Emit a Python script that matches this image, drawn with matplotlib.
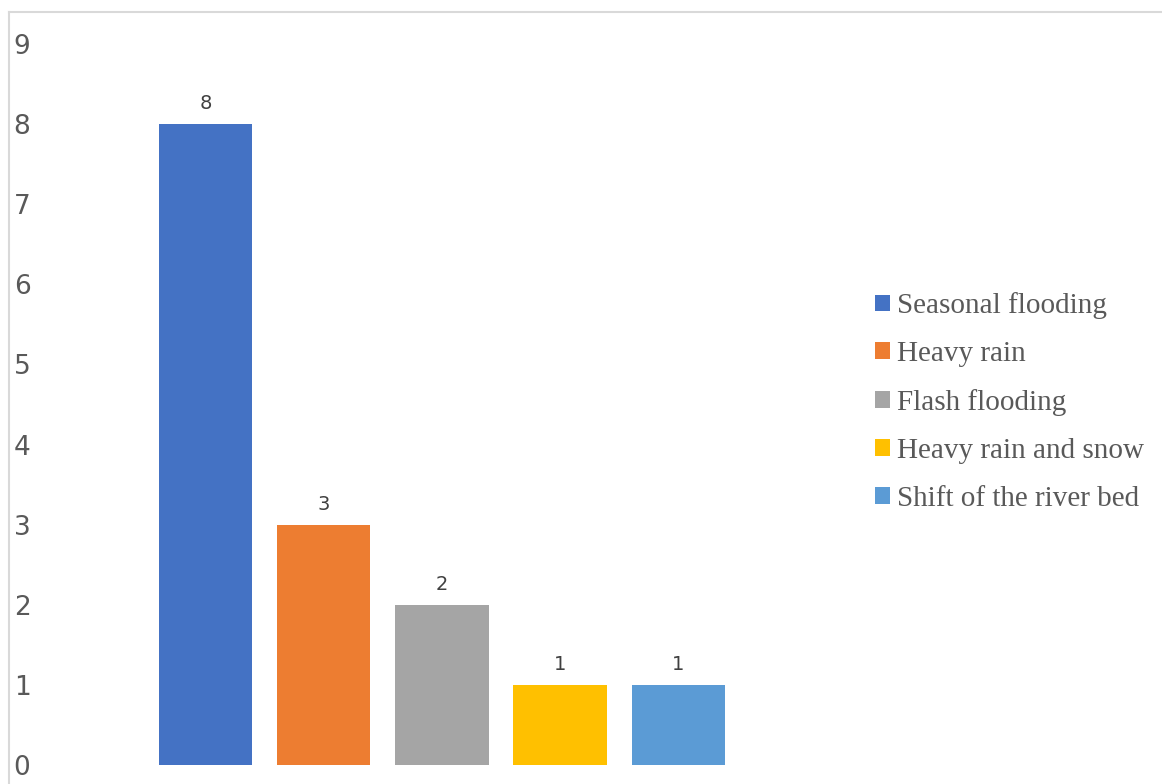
import matplotlib.pyplot as plt
from matplotlib.lines import Line2D

# data
causes = ['Seasonal flooding', 'Heavy rain', 'Flash flooding',
          'Heavy rain and snow', 'Shift of the river bed']
counts = [8, 3, 2, 1, 1]
colors = ['#4472C4', '#ED7D31', '#A5A5A5', '#FFC000', '#5B9BD5']
yticks = [0, 1, 2, 3, 4, 5, 6, 7, 8, 9]

W, H = 1162, 784
fig = plt.figure(figsize=(W / 100, H / 100), dpi=100)

# plot area in pixels: left 36, right 840, top 12, bottom 765 (value 0)
left, right, top, bottom = 36, 840, 12, 765
ax = fig.add_axes([left / W, 1 - bottom / H, (right - left) / W, (bottom - top) / H])

# bar centres at 205.5 px, step 118.2 px
step = 118.2
x0 = -(205.5 - left) / step
ax.set_xlim(x0, x0 + (right - left) / step)
ax.set_ylim(0, 9.4)

for i, (c, v, col) in enumerate(zip(causes, counts, colors)):
    bars = ax.bar(i, v, width=0.79, color=col, label=c)
    ax.bar_label(bars, labels=[str(v)], padding=8, fontsize=14, color='#404040')

ax.set_yticks(yticks)
ax.set_xticks([])
ax.tick_params(axis='y', length=0, pad=4, labelsize=19, labelcolor='#595959')
for s in ax.spines.values():
    s.set_visible(False)

# outer chart frame (left and top edges visible)
fig.add_artist(Line2D([9 / W, 9 / W], [0, 1 - 12 / H], color='#D9D9D9', lw=1.5))
fig.add_artist(Line2D([9 / W, 1], [1 - 12 / H, 1 - 12 / H], color='#D9D9D9', lw=1.5))

leg = fig.legend(loc='center left', bbox_to_anchor=(875 / W, 1 - 402 / H),
                 frameon=False, prop={'family': 'Liberation Serif', 'size': 21},
                 handlelength=0.5, handleheight=0.5, handletextpad=0.25,
                 labelspacing=0.75, borderpad=0, borderaxespad=0)
for t in leg.get_texts():
    t.set_color('#595959')

fig.savefig('out.png', dpi=100)
